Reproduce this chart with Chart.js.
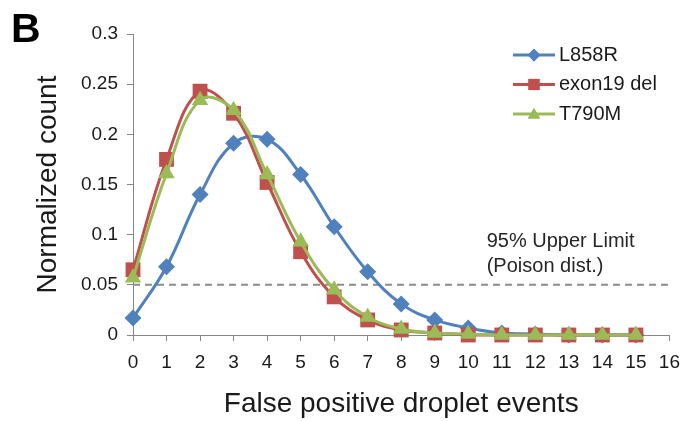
<!DOCTYPE html>
<html>
<head>
<meta charset="utf-8">
<script src="https://cdn.jsdelivr.net/npm/chart.js@4.4.0/dist/chart.umd.min.js"></script>
<style>
  html, body { margin: 0; padding: 0; background: #fff; }
  #wrap { width: 690px; height: 421px; }
</style>
</head>
<body>
<div id="wrap"><canvas id="chart" width="690" height="421"></canvas></div>
<script>
// Data
const events = [0, 1, 2, 3, 4, 5, 6, 7, 8, 9, 10, 11, 12, 13, 14, 15];
const l858r = [0.017, 0.068, 0.140, 0.191, 0.195, 0.160, 0.108, 0.063, 0.031, 0.015, 0.007, 0.002, 0.001, 0, 0, 0];
const exon19 = [0.065, 0.175, 0.243, 0.221, 0.152, 0.083, 0.038, 0.015, 0.005, 0.002, 0, 0, 0, 0, 0, 0];
const t790m = [0.057, 0.161, 0.234, 0.224, 0.160, 0.093, 0.045, 0.018, 0.006, 0.002, 0.001, 0, 0, 0, 0, 0];
const limitX = [0, 16];
const limitY = [0.05, 0.05];
const limitLabel = ['95% Upper Limit', '(Poison dist.)'];

const FONT = "'Liberation Sans', Arial, sans-serif";
const toPoints = (xs, ys) => xs.map((x, i) => ({ x: x, y: ys[i] }));

// Panel letter, legend and the limit annotation
const extras = {
    id: 'extras',
    afterDraw(chart) {
        const ctx = chart.ctx;
        const xs = chart.scales.x, ys = chart.scales.y;
        ctx.save();

        // panel letter
        ctx.fillStyle = '#000';
        ctx.font = 'bold 41px ' + FONT;
        ctx.textBaseline = 'alphabetic';
        ctx.textAlign = 'left';
        ctx.fillText('B', 11, 42);

        // limit annotation
        ctx.fillStyle = '#262626';
        ctx.font = '20px ' + FONT;
        ctx.textBaseline = 'middle';
        ctx.fillText(limitLabel[0], xs.getPixelForValue(10.55), ys.getPixelForValue(0.093));
        ctx.fillText(limitLabel[1], xs.getPixelForValue(10.55), ys.getPixelForValue(0.068));

        // legend
        const rows = chart.data.datasets.filter(d => d.showInLegend);
        rows.forEach((d, i) => {
            const y = 55 + i * 29.5;
            ctx.strokeStyle = d.borderColor;
            ctx.lineWidth = 3;
            ctx.beginPath();
            ctx.moveTo(513, y);
            ctx.lineTo(555, y);
            ctx.stroke();
            ctx.fillStyle = d.pointBackgroundColor;
            Chart.helpers.drawPoint(ctx, {
                pointStyle: d.pointStyle, radius: d.pointRadius * 0.75,
                rotation: 0, borderWidth: 0
            }, 534, y + (d.pointStyle === 'triangle' ? 1 : 0));
            ctx.fill();
            ctx.fillStyle = '#1a1a1a';
            ctx.font = '20px ' + FONT;
            ctx.fillText(d.label, 559, y);
        });
        ctx.restore();
    }
};

function series(label, ys, color, style, radius, order) {
    return {
        label: label,
        data: toPoints(events, ys),
        borderColor: color,
        backgroundColor: color,
        pointBackgroundColor: color,
        pointBorderColor: color,
        pointBorderWidth: 0,
        pointStyle: style,
        pointRadius: radius,
        borderWidth: 3,
        tension: 0.4,
        clip: false,
        order: order,
        showInLegend: true
    };
}

new Chart(document.getElementById('chart'), {
    type: 'line',
    data: {
        datasets: [
            series('L858R', l858r, '#4F81BD', 'rectRot', 8.5, 3),
            series('exon19 del', exon19, '#C0504D', 'rect', 10.5, 2),
            series('T790M', t790m, '#9BBB59', 'triangle', 9.5, 1),
            {
                label: 'limit',
                data: toPoints(limitX, limitY),
                borderColor: '#8c8c8c',
                borderWidth: 2,
                borderDash: [7, 5],
                pointRadius: 0,
                tension: 0,
                order: 4,
                showInLegend: false
            }
        ]
    },
    options: {
        responsive: false,
        animation: false,
        events: [],
        layout: { padding: { left: 0, top: 34, right: 15, bottom: 0 } },
        plugins: {
            legend: { display: false },
            tooltip: { enabled: false }
        },
        scales: {
            x: {
                type: 'linear',
                min: 0,
                max: 16,
                ticks: {
                    stepSize: 1,
                    color: '#1a1a1a',
                    padding: 10,
                    maxRotation: 0,
                    font: { family: FONT, size: 19 }
                },
                grid: {
                    display: true,
                    drawOnChartArea: false,
                    drawTicks: true,
                    tickLength: 6,
                    color: '#868686'
                },
                border: { color: '#868686', width: 1 },
                title: {
                    display: true,
                    text: 'False positive droplet events',
                    color: '#1a1a1a',
                    font: { family: FONT, size: 28, lineHeight: 1.2 },
                    padding: { top: 0, bottom: 0 }
                },
                afterFit(scale) { scale.height = 86; }
            },
            y: {
                min: 0,
                max: 0.3,
                ticks: {
                    stepSize: 0.05,
                    color: '#1a1a1a',
                    padding: 9,
                    font: { family: FONT, size: 19 },
                    callback: v => String(+v.toFixed(2))
                },
                grid: {
                    display: true,
                    drawOnChartArea: false,
                    drawTicks: true,
                    tickLength: 6,
                    color: '#868686'
                },
                border: { color: '#868686', width: 1 },
                title: {
                    display: true,
                    text: 'Normalized count',
                    color: '#1a1a1a',
                    font: { family: FONT, size: 28, lineHeight: 1.2 },
                    padding: { top: 31, bottom: 0 }
                },
                afterFit(scale) { scale.width = 133; }
            }
        }
    },
    plugins: [extras]
});
</script>
</body>
</html>
